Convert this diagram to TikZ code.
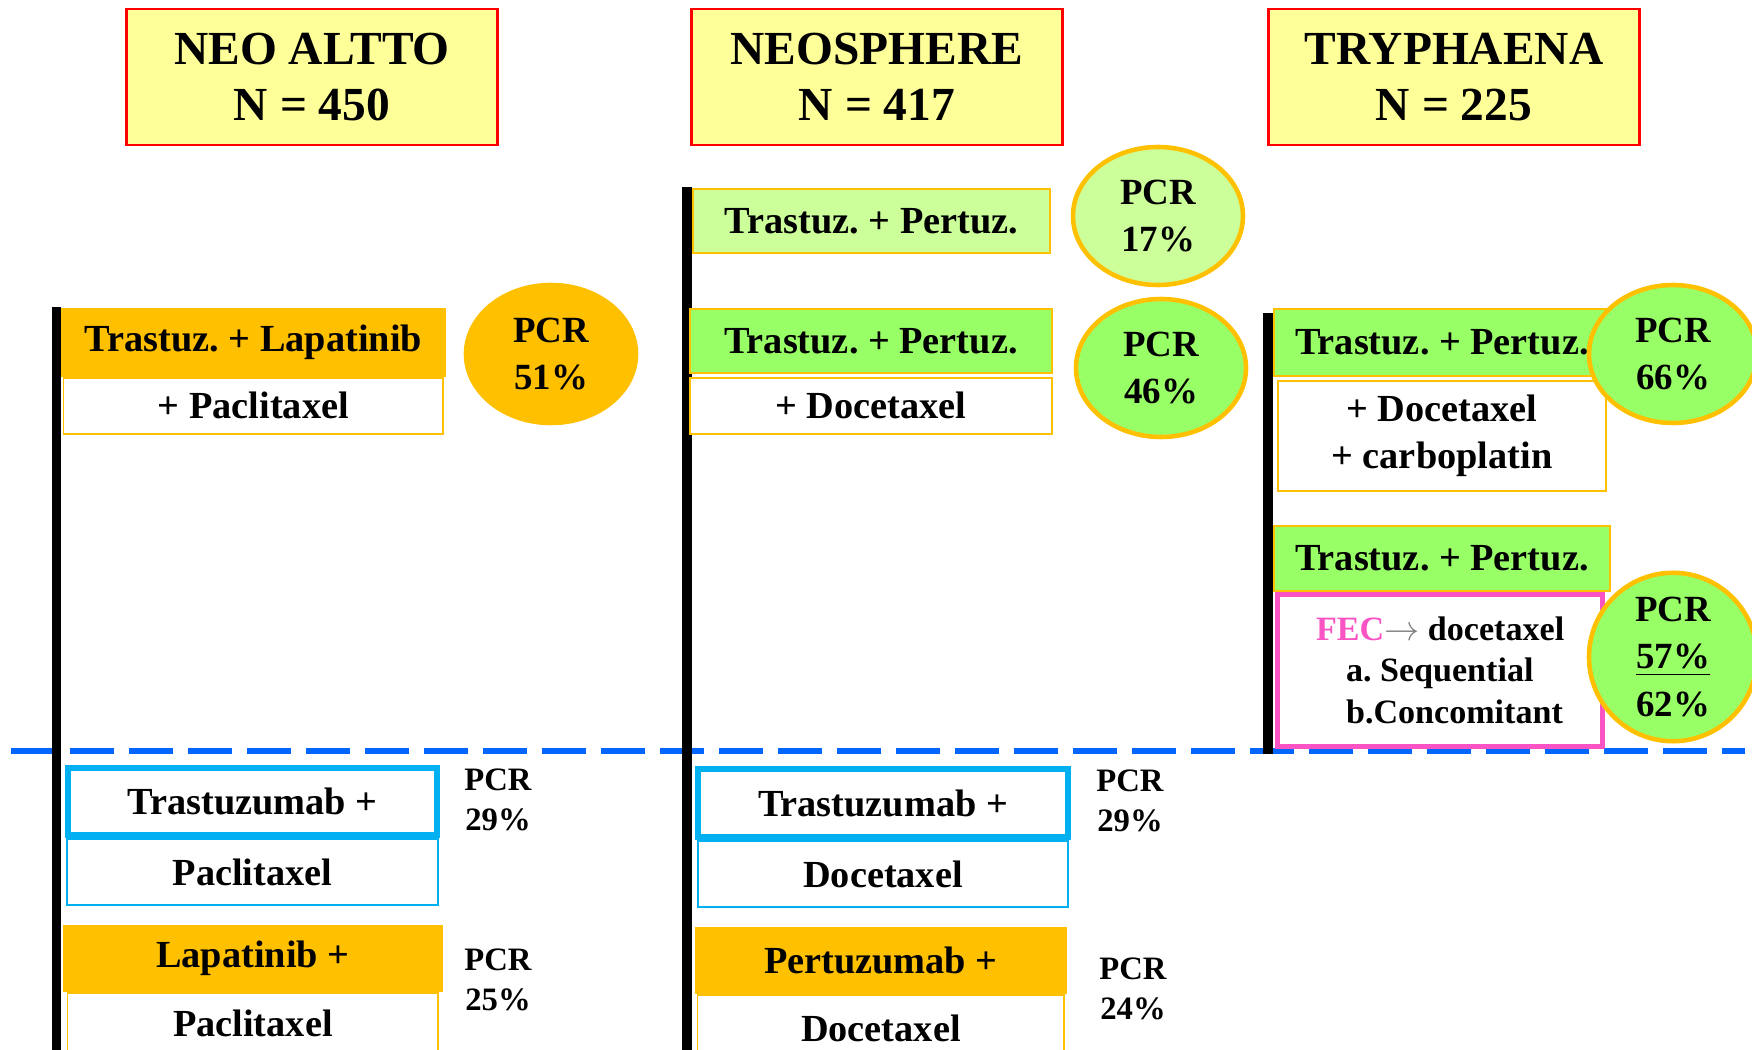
\documentclass[tikz,border=0pt]{standalone}
\usepackage{fontspec}
\setmainfont{Liberation Serif}
\usepackage{xcolor}
\usetikzlibrary{positioning, shapes.geometric}
\definecolor{hdrfill}{RGB}{255,255,153}
\definecolor{pcrorange}{RGB}{255,192,0}
\definecolor{palegreen}{RGB}{204,255,153}
\definecolor{armgreen}{RGB}{153,255,102}
\definecolor{cyanedge}{RGB}{0,176,240}
\definecolor{cutblue}{RGB}{0,102,255}
\definecolor{fecpink}{RGB}{250,84,196}
\newcommand\trialfont{\fontsize{13.5}{15.9}\selectfont\bfseries}
\newcommand\armfont{\fontsize{10.9}{13.4}\selectfont\bfseries}
\newcommand\pcrfont{\fontsize{10.5}{13.4}\selectfont\bfseries}
\newcommand\lowpcrfont{\fontsize{9.3}{11.4}\selectfont\bfseries}
\newcommand\fecfont{\fontsize{9.7}{11.7}\selectfont\bfseries}
\frenchspacing

\begin{document}
\begin{tikzpicture}[x=0.1mm, y=-0.1mm,
   trial/.style={rectangle, draw=red, line width=0.6pt, fill=hdrfill, align=center,
                 minimum width=37.1mm, minimum height=13.6mm, inner sep=0pt, font=\trialfont},
   arm/.style={rectangle, draw=pcrorange, line width=0.5pt, inner sep=0pt, align=center,
               font=\armfont},
   cyanbold/.style={arm, draw=cyanedge, line width=1.7pt, fill=white},
   cyanthin/.style={arm, draw=cyanedge, line width=0.6pt, fill=white},
   fecbox/.style={arm, draw=fecpink, line width=1.5pt, fill=white, font=\fecfont, align=left},
   pcr/.style={ellipse, draw=pcrorange, line width=1.3pt, inner sep=0pt, align=center,
               minimum width=17mm, minimum height=13.8mm, font=\pcrfont},
   lowpcr/.style={inner sep=0pt, align=center, font=\lowpcrfont},
   bar/.style={fill=black}]
  \path[use as bounding box, clip] (0,0) rectangle (1752,1050);

  \coordinate (cutW) at (11,751);
  \coordinate (cutE) at (1745,751);
  \draw[cutblue, line width=1.7pt, dash pattern=on 4.4mm off 1.5mm] (cutW) -- (cutE);

  \fill[bar] (52,307) rectangle (61,1050);
  \fill[bar] (682,187) rectangle (692,1050);
  \fill[bar] (1263,313) rectangle (1273,754);

  \node[trial] (altto) at (312,77) {NEO ALTTO\\N = 450};
  \node[trial] (neosph) at (877,77) {NEOSPHERE\\N = 417};
  \node[trial] (trypha) at (1454,77) {TRYPHAENA\\N = 225};

  \node[arm, fill=pcrorange, anchor=north west, minimum width=38.3mm, minimum height=6.7mm]
     (altTL) at (61,308) {Trastuz. + Lapatinib};
  \node[arm, fill=white, below=0pt of altTL, minimum width=38mm, minimum height=5.6mm]
     (altPac) {+ Paclitaxel};
  \node[pcr, fill=pcrorange] (altR) at (551,354) {PCR\\51\%};

  \node[cyanbold, anchor=north west, minimum width=36.9mm, minimum height=6.7mm]
     (altTr) at (65,765) {Trastuzumab +};
  \node[cyanthin, below=0pt of altTr, minimum width=37.1mm, minimum height=6.6mm]
     (altTrP) {Paclitaxel};
  \node[lowpcr] (altTrR) at (498,800) {PCR\\29\%};
  \node[arm, fill=pcrorange, anchor=north west, minimum width=37.8mm, minimum height=6.5mm]
     (altLa) at (63,925) {Lapatinib +};
  \node[arm, fill=white, below=0pt of altLa, minimum width=37.1mm, minimum height=6.2mm]
     (altLaP) {Paclitaxel};
  \node[lowpcr] (altLaR) at (498,980) {PCR\\25\%};

  \node[arm, fill=palegreen, anchor=north west, minimum width=35.7mm, minimum height=6.4mm]
     (neoA) at (692,188) {Trastuz. + Pertuz.};
  \node[pcr, fill=palegreen] (neoAR) at (1158,216) {PCR\\17\%};
  \node[arm, fill=armgreen, anchor=north west, minimum width=36.2mm, minimum height=6.4mm]
     (neoB) at (689,308) {Trastuz. + Pertuz.};
  \node[arm, fill=white, below=0.3mm of neoB, minimum width=36.2mm, minimum height=5.6mm]
     (neoBD) {+ Docetaxel};
  \node[pcr, fill=armgreen] (neoBR) at (1161,368) {PCR\\46\%};

  \node[cyanbold, anchor=north west, minimum width=37mm, minimum height=6.8mm]
     (neoTr) at (695,766) {Trastuzumab +};
  \node[cyanthin, below=0pt of neoTr, minimum width=37mm, minimum height=6.6mm]
     (neoTrD) {Docetaxel};
  \node[lowpcr] (neoTrR) at (1130,801) {PCR\\29\%};
  \node[arm, fill=pcrorange, anchor=north west, minimum width=37mm, minimum height=6.5mm]
     (neoPe) at (695,927) {Pertuzumab +};
  \node[arm, fill=white, below=0pt of neoPe, minimum width=36.7mm, minimum height=6.8mm]
     (neoPeD) {Docetaxel};
  \node[lowpcr] (neoPeR) at (1133,989) {PCR\\24\%};

  \node[arm, fill=armgreen, anchor=north west, minimum width=33.6mm, minimum height=6.7mm]
     (tryA) at (1273,308) {Trastuz. + Pertuz.};
  \node[arm, fill=white, below=0.3mm of tryA, minimum width=32.8mm, minimum height=11mm]
     (tryAD) {+ Docetaxel\\+ carboplatin};
  \node[pcr, fill=armgreen, minimum width=16.8mm] (tryAR) at (1673,354) {PCR\\66\%};
  \node[arm, fill=armgreen, anchor=north west, minimum width=33.6mm, minimum height=6.5mm]
     (tryB) at (1273,525) {Trastuz. + Pertuz.};
  \node[fecbox, anchor=north west, minimum width=32.5mm, minimum height=15.2mm]
     (tryBF) at ([xshift=0.2mm]tryB.south west)
     {\textcolor{fecpink}{FEC}\textcolor{gray}{$\rightarrow$} docetaxel\\
      \hspace*{3mm}a. Sequential\\\hspace*{3mm}b.Concomitant};
  \node[pcr, fill=armgreen, minimum width=16.8mm] (tryBR) at (1673,657)
     {PCR\\\underline{57\%}\\62\%};
\end{tikzpicture}
\end{document}
